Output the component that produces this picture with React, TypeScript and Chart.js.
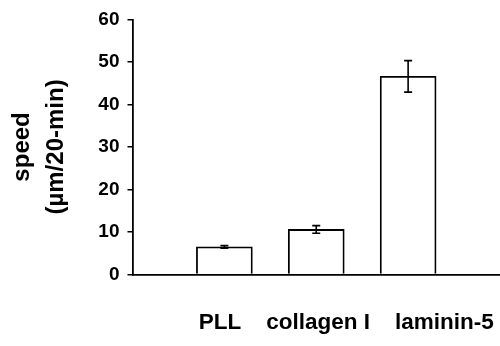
import React, { useEffect, useRef } from "react";
import { Chart, registerables } from "chart.js";

Chart.register(...registerables);

const categories = ["PLL", "collagen I", "laminin-5"];
const speeds = [6.5, 10.6, 46.6];
const errors = [0.3, 0.9, 3.7];
const yTicks = [0, 10, 20, 30, 40, 50, 60];
const yTitle = ["speed", "(µm/20-min)"];

const FONT = "'Liberation Sans', Arial, Helvetica, sans-serif";

const errorBarPlugin = {
  id: "errorBars",
  afterDatasetsDraw(chart: any) {
    const meta = chart.getDatasetMeta(0);
    const yScale = chart.scales.y;
    const ctx = chart.ctx;
    ctx.save();
    ctx.strokeStyle = "#000";
    ctx.lineWidth = 1.6;
    meta.data.forEach((el: any, i: number) => {
      const idx = i - 1;
      if (idx < 0 || idx >= speeds.length) return;
      const v = speeds[idx];
      const e = errors[idx];
      const x = el.x;
      const yTop = yScale.getPixelForValue(v + e);
      const yBot = yScale.getPixelForValue(v - e);
      const cap = 4;
      ctx.beginPath();
      ctx.moveTo(x, yTop);
      ctx.lineTo(x, yBot);
      ctx.moveTo(x - cap, yTop);
      ctx.lineTo(x + cap, yTop);
      ctx.moveTo(x - cap, yBot);
      ctx.lineTo(x + cap, yBot);
      ctx.stroke();
    });
    ctx.restore();
  },
};

export default function App() {
  const ref = useRef<HTMLCanvasElement>(null);

  useEffect(() => {
    if (!ref.current) return;
    const labels = ["", ...categories, ""];
    const data = [null, ...speeds, null];
    const chart = new Chart(ref.current, {
      type: "bar",
      data: {
        labels,
        datasets: [
          {
            data,
            backgroundColor: "#ffffff",
            borderColor: "#000000",
            borderWidth: 1.8,
            borderSkipped: "bottom",
            barThickness: 56,
          },
        ],
      },
      options: {
        responsive: false,
        animation: false,
        events: [],
        layout: { padding: { top: 19, right: 0, bottom: 0, left: 0 } },
        plugins: {
          legend: { display: false },
          tooltip: { enabled: false },
        },
        scales: {
          x: {
            type: "category",
            offset: false,
            grid: { display: false },
            border: { display: true, color: "#000", width: 1.8 },
            ticks: { display: false },
            title: {
              display: true,
              text: categories.join("    ") + " ",
              align: "end",
              color: "#000",
              font: { family: FONT, size: 22.5, weight: "bold", lineHeight: 1.2 },
              padding: { top: 0, bottom: 10 },
            },
            afterFit(scale: any) {
              scale.height = 71.5;
            },
          },
          y: {
            min: 0,
            max: 60,
            afterBuildTicks(scale: any) {
              scale.ticks = yTicks.map((v) => ({ value: v }));
            },
            grid: {
              display: true,
              drawOnChartArea: false,
              drawTicks: true,
              tickLength: 5,
              color: "#000",
              lineWidth: 1.5,
            },
            border: { display: true, color: "#000", width: 1.8 },
            ticks: {
              color: "#000",
              padding: 8,
              font: { family: FONT, size: 19, weight: "bold" },
            },
            title: {
              display: true,
              text: yTitle,
              color: "#000",
              font: { family: FONT, size: 24, weight: "bold", lineHeight: 1.4 },
              padding: { top: 6, bottom: 0 },
            },
            afterFit(scale: any) {
              scale.width = 132.5;
            },
          },
        },
      },
      plugins: [errorBarPlugin],
    });
    return () => chart.destroy();
  }, []);

  return (
    <div style={{ position: "absolute", left: 0, top: 0, width: 500, height: 346, background: "#fff" }}>
      <canvas ref={ref} width={500} height={346} style={{ display: "block" }} />
    </div>
  );
}
